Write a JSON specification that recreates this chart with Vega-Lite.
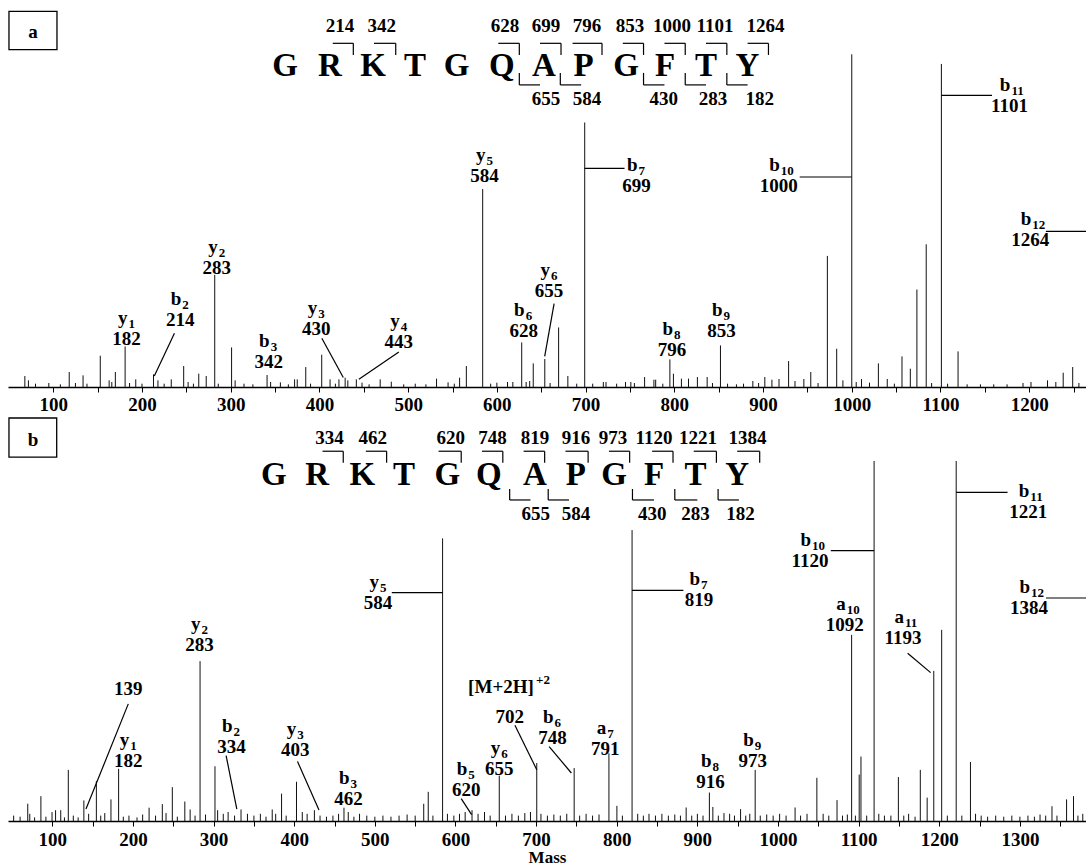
{
"$schema":"https://vega.github.io/schema/vega-lite/v6.json",
"padding":{"left":8,"top":0,"right":0,"bottom":0},
"autosize":{"type":"pad"},
"bounds":"flush",
"spacing":31,
"config":{"view":{"stroke":null},"text":{"font":"Liberation Serif"}},
"datasets":{
"peaks_a":[{"m":68,"i":3.3},{"m":72,"i":2.0},{"m":80,"i":1.0},{"m":95,"i":1.2},{"m":108,"i":0.8},{"m":118,"i":4.5},{"m":125,"i":1.2},{"m":133.6,"i":3.5},{"m":138,"i":1.0},{"m":153,"i":9.4},{"m":163,"i":2.0},{"m":166,"i":1.5},{"m":170,"i":4.5},{"m":181,"i":12.2},{"m":186,"i":1.2},{"m":193,"i":2.3},{"m":200,"i":1.0},{"m":213,"i":3.8},{"m":218,"i":2.0},{"m":225,"i":1.0},{"m":233,"i":2.3},{"m":247,"i":6.3},{"m":252,"i":1.5},{"m":258,"i":1.0},{"m":264,"i":4.0},{"m":272.4,"i":3.3},{"m":282,"i":33.7},{"m":286,"i":1.0},{"m":301,"i":11.9},{"m":305,"i":2.0},{"m":315,"i":1.0},{"m":325,"i":0.8},{"m":341,"i":3.6},{"m":345,"i":1.5},{"m":356,"i":1.4},{"m":365,"i":0.8},{"m":372,"i":2.3},{"m":375,"i":2.3},{"m":384.6,"i":6.0},{"m":390,"i":1.0},{"m":402.6,"i":9.7},{"m":412,"i":2.3},{"m":418,"i":1.0},{"m":422,"i":2.3},{"m":429,"i":2.8},{"m":432,"i":2.0},{"m":441.6,"i":2.3},{"m":448,"i":1.3},{"m":456,"i":0.8},{"m":468.5,"i":2.3},{"m":481,"i":1.6},{"m":495,"i":0.8},{"m":508,"i":1.0},{"m":520,"i":0.8},{"m":532,"i":2.5},{"m":545,"i":1.4},{"m":552,"i":1.0},{"m":558,"i":2.8},{"m":565.6,"i":6.3},{"m":584,"i":59.5},{"m":593,"i":1.0},{"m":600,"i":1.3},{"m":612,"i":1.5},{"m":618,"i":1.5},{"m":628,"i":13.4},{"m":633,"i":1.5},{"m":637,"i":1.8},{"m":641,"i":7.1},{"m":654,"i":8.4},{"m":660,"i":1.2},{"m":669.6,"i":17.9},{"m":680,"i":3.3},{"m":690,"i":1.0},{"m":699,"i":79.5},{"m":708,"i":1.0},{"m":720,"i":1.5},{"m":723,"i":1.5},{"m":735,"i":1.0},{"m":745,"i":1.5},{"m":751,"i":1.5},{"m":755,"i":1.2},{"m":766.5,"i":3.0},{"m":777,"i":2.2},{"m":779,"i":2.2},{"m":787,"i":1.0},{"m":795,"i":8.3},{"m":799,"i":4.0},{"m":808,"i":2.5},{"m":816,"i":2.5},{"m":826,"i":3.0},{"m":837,"i":3.0},{"m":843,"i":1.2},{"m":852,"i":12.5},{"m":860,"i":1.0},{"m":870,"i":0.8},{"m":878,"i":1.0},{"m":888.5,"i":1.8},{"m":895,"i":1.2},{"m":902,"i":3.0},{"m":910,"i":2.2},{"m":918,"i":2.4},{"m":928.8,"i":7.8},{"m":936,"i":1.8},{"m":946,"i":2.4},{"m":953.8,"i":4.5},{"m":962,"i":1.2},{"m":972.5,"i":39.4},{"m":983,"i":11.5},{"m":990,"i":2.0},{"m":1000,"i":100},{"m":1005,"i":1.5},{"m":1011,"i":2.4},{"m":1020,"i":1.3},{"m":1030,"i":7.1},{"m":1040,"i":2.4},{"m":1048,"i":1.0},{"m":1056.6,"i":9.2},{"m":1066,"i":5.5},{"m":1073.4,"i":29.3},{"m":1083.9,"i":42.9},{"m":1090,"i":1.2},{"m":1101,"i":97.1},{"m":1108,"i":1.0},{"m":1119.8,"i":10.7},{"m":1130,"i":0.8},{"m":1145,"i":0.8},{"m":1160,"i":0.8},{"m":1175,"i":0.8},{"m":1193,"i":1.2},{"m":1202,"i":1.5},{"m":1220.6,"i":2.0},{"m":1230,"i":1.5},{"m":1238.3,"i":4.3},{"m":1249,"i":6.0},{"m":1256,"i":1.2}],
"labels_a":[{"m":77.2,"i":104.95,"num":"a"},
{"m":423.2,"i":106.6,"num":"214"},{"m":470.2,"i":106.6,"num":"342"},{"m":609.2,"i":106.6,"num":"628"},{"m":655.4,"i":106.6,"num":"699"},{"m":701.6,"i":106.6,"num":"796"},{"m":750.1,"i":106.6,"num":"853"},{"m":797.4,"i":106.6,"num":"1000"},{"m":845.9,"i":106.6,"num":"1101"},{"m":902.9,"i":106.6,"num":"1264"},
{"m":655.4,"i":84.76,"num":"655"},{"m":701.6,"i":84.76,"num":"584"},{"m":788.1,"i":84.76,"num":"430"},{"m":843.6,"i":84.76,"num":"283"},{"m":896.3,"i":84.76,"num":"182"},
{"m":182.7,"i":12.74,"num":"182","ion":"y","sub":"1"},{"m":243.2,"i":18.21,"num":"214","ion":"b","sub":"2"},{"m":284.2,"i":34.02,"num":"283","ion":"y","sub":"2"},{"m":342.8,"i":5.83,"num":"342","ion":"b","sub":"3"},{"m":396.4,"i":15.72,"num":"430","ion":"y","sub":"3"},{"m":489.5,"i":11.78,"num":"443","ion":"y","sub":"4"},{"m":586,"i":61.5,"num":"584","ion":"y","sub":"5"},{"m":630.2,"i":14.91,"num":"628","ion":"b","sub":"6"},{"m":658.8,"i":27.08,"num":"655","ion":"y","sub":"6"},{"m":757.5,"i":58.52,"num":"699","ion":"b","sub":"7"},{"m":797.4,"i":9.29,"num":"796","ion":"b","sub":"8"},{"m":853.3,"i":14.91,"num":"853","ion":"b","sub":"9"},{"m":917.8,"i":58.52,"num":"1000","ion":"b","sub":"10"},{"m":1177.7,"i":82.75,"num":"1101","ion":"b","sub":"11"},{"m":1201.2,"i":42.41,"num":"1264","ion":"b","sub":"12"}],
"seq_a":[{"m":361.2,"i":93.33,"t":"G"},{"m":411.9,"i":93.33,"t":"R"},{"m":460.4,"i":93.33,"t":"K"},{"m":507.7,"i":93.33,"t":"T"},{"m":554.7,"i":93.33,"t":"G"},{"m":605.5,"i":93.33,"t":"Q"},{"m":653.1,"i":93.33,"t":"A"},{"m":697.8,"i":93.33,"t":"P"},{"m":745.6,"i":93.33,"t":"G"},{"m":789.5,"i":93.33,"t":"F"},{"m":835.7,"i":93.33,"t":"T"},{"m":882.5,"i":93.33,"t":"Y"}],
"seg_a":[
{"m":415.0,"i":103.3,"m2":438.2,"i2":103.3},{"m":438.2,"i":103.3,"m2":438.2,"i2":99.8},
{"m":461.5,"i":103.3,"m2":486.0,"i2":103.3},{"m":486.0,"i":103.3,"m2":486.0,"i2":99.8},
{"m":601.6,"i":103.3,"m2":625.3,"i2":103.3},{"m":625.3,"i":103.3,"m2":625.3,"i2":99.8},
{"m":648.6,"i":103.3,"m2":672.3,"i2":103.3},{"m":672.3,"i":103.3,"m2":672.3,"i2":99.8},
{"m":685.3,"i":103.3,"m2":718.5,"i2":103.3},{"m":718.5,"i":103.3,"m2":718.5,"i2":99.8},
{"m":741.9,"i":103.3,"m2":765.3,"i2":103.3},{"m":765.3,"i":103.3,"m2":765.3,"i2":99.8},
{"m":788.9,"i":103.3,"m2":812.3,"i2":103.3},{"m":812.3,"i":103.3,"m2":812.3,"i2":99.8},
{"m":835.7,"i":103.3,"m2":859.2,"i2":103.3},{"m":859.2,"i":103.3,"m2":859.2,"i2":99.8},
{"m":882.6,"i":103.3,"m2":906.1,"i2":103.3},{"m":906.1,"i":103.3,"m2":906.1,"i2":99.8},
{"m":625.3,"i":94.4,"m2":625.3,"i2":90.8},{"m":625.3,"i":90.8,"m2":648.6,"i2":90.8},
{"m":671.5,"i":94.4,"m2":671.5,"i2":90.8},{"m":671.5,"i":90.8,"m2":695.0,"i2":90.8},
{"m":765.3,"i":94.4,"m2":765.3,"i2":90.8},{"m":765.3,"i":90.8,"m2":788.9,"i2":90.8},
{"m":812.3,"i":94.4,"m2":812.3,"i2":90.8},{"m":812.3,"i":90.8,"m2":835.7,"i2":90.8},
{"m":859.2,"i":94.4,"m2":859.2,"i2":90.8},{"m":859.2,"i":90.8,"m2":882.6,"i2":90.8},
{"m":698.9,"i":65.7,"m2":743.9,"i2":65.7},
{"m":941.3,"i":63.12,"m2":999.9,"i2":63.12},
{"m":1101,"i":87.65,"m2":1158.1,"i2":87.65},
{"m":1218.8,"i":46.8,"m2":1264,"i2":46.8},
{"m":236.6,"i":16.17,"m2":213.9,"i2":3.31},
{"m":402.7,"i":14.67,"m2":426.9,"i2":2.83},
{"m":489.5,"i":10.52,"m2":444.5,"i2":2.31},
{"m":664.5,"i":25.07,"m2":653.9,"i2":9.23}],
"box_a":[{"m":50.1,"i":101.4,"m2":104.2,"i2":112.9}],
"peaks_b":[{"m":52,"i":1.5},{"m":60,"i":1.2},{"m":69.5,"i":4.8},{"m":72,"i":2.0},{"m":78,"i":1.0},{"m":85.8,"i":6.9},{"m":92,"i":1.2},{"m":99.6,"i":2.5},{"m":104,"i":3.0},{"m":110.4,"i":3.0},{"m":115,"i":1.0},{"m":119.8,"i":14.2},{"m":126,"i":1.5},{"m":132,"i":1.0},{"m":139.1,"i":5.7},{"m":145,"i":2.0},{"m":154.6,"i":11.1},{"m":160,"i":1.5},{"m":165,"i":2.2},{"m":172.7,"i":6.0},{"m":182.2,"i":14.5},{"m":188,"i":1.2},{"m":195,"i":1.5},{"m":205,"i":1.0},{"m":212,"i":1.8},{"m":220,"i":3.7},{"m":228,"i":1.5},{"m":236.4,"i":4.7},{"m":241,"i":2.2},{"m":248.8,"i":9.4},{"m":255,"i":1.2},{"m":264.3,"i":5.4},{"m":270.9,"i":3.2},{"m":277,"i":1.5},{"m":283.2,"i":44.4},{"m":290,"i":1.8},{"m":301.7,"i":15.2},{"m":305,"i":3.0},{"m":312,"i":2.0},{"m":318,"i":2.5},{"m":326,"i":1.5},{"m":334,"i":3.2},{"m":342,"i":2.0},{"m":350,"i":1.5},{"m":358,"i":2.0},{"m":365,"i":1.2},{"m":372.7,"i":3.2},{"m":377,"i":2.0},{"m":384.3,"i":7.6},{"m":390,"i":1.5},{"m":402.8,"i":10.9},{"m":410,"i":2.5},{"m":416,"i":2.0},{"m":425,"i":3.0},{"m":432,"i":1.5},{"m":440,"i":1.2},{"m":448,"i":1.5},{"m":455,"i":2.0},{"m":461.7,"i":3.7},{"m":467,"i":2.5},{"m":474,"i":1.2},{"m":481,"i":2.0},{"m":490,"i":1.5},{"m":500,"i":1.2},{"m":510,"i":1.5},{"m":520,"i":1.2},{"m":530,"i":1.5},{"m":540,"i":1.8},{"m":550,"i":1.5},{"m":560.6,"i":4.8},{"m":566.2,"i":8.1},{"m":572,"i":1.5},{"m":584,"i":78.5},{"m":590,"i":2.0},{"m":598,"i":1.5},{"m":605,"i":2.0},{"m":612,"i":2.5},{"m":620.5,"i":3.0},{"m":628,"i":2.0},{"m":636,"i":2.5},{"m":643,"i":1.5},{"m":654.3,"i":12.6},{"m":662,"i":1.5},{"m":670,"i":2.0},{"m":678,"i":1.5},{"m":686,"i":2.2},{"m":693,"i":2.5},{"m":700.8,"i":16.1},{"m":706,"i":2.0},{"m":714,"i":1.5},{"m":722,"i":1.8},{"m":730,"i":1.5},{"m":738,"i":2.0},{"m":747.2,"i":14.7},{"m":754,"i":1.5},{"m":762,"i":2.0},{"m":770,"i":1.5},{"m":778,"i":1.8},{"m":790.3,"i":18.8},{"m":800.2,"i":4.2},{"m":807,"i":1.5},{"m":819,"i":80.8},{"m":826,"i":2.0},{"m":833,"i":1.5},{"m":840,"i":2.0},{"m":848,"i":1.5},{"m":856,"i":2.0},{"m":864,"i":1.5},{"m":872,"i":1.8},{"m":879,"i":1.5},{"m":886.1,"i":3.75},{"m":893,"i":1.5},{"m":900,"i":2.0},{"m":907,"i":1.5},{"m":914.9,"i":7.9},{"m":919.2,"i":3.9},{"m":926,"i":1.5},{"m":933,"i":2.2},{"m":940,"i":2.0},{"m":946,"i":1.5},{"m":953.6,"i":3.3},{"m":960,"i":1.5},{"m":965,"i":2.0},{"m":971.7,"i":14.2},{"m":978,"i":1.5},{"m":986,"i":1.8},{"m":994,"i":1.5},{"m":1002,"i":2.0},{"m":1010,"i":1.5},{"m":1021.2,"i":3.75},{"m":1028,"i":1.5},{"m":1036,"i":2.0},{"m":1048.2,"i":12.0},{"m":1056,"i":2.0},{"m":1063,"i":1.5},{"m":1073.2,"i":5.8},{"m":1080,"i":1.5},{"m":1086,"i":1.8},{"m":1091.3,"i":51.7},{"m":1096,"i":1.5},{"m":1100.7,"i":12.9},{"m":1102.9,"i":17.9},{"m":1110,"i":1.5},{"m":1119.2,"i":100},{"m":1125,"i":2.0},{"m":1132,"i":1.5},{"m":1140,"i":1.5},{"m":1149.3,"i":12.2},{"m":1156,"i":1.5},{"m":1162,"i":2.0},{"m":1170,"i":1.2},{"m":1176.5,"i":14.2},{"m":1185,"i":6.5},{"m":1193.2,"i":41.7},{"m":1203,"i":53.1},{"m":1210,"i":1.5},{"m":1221,"i":100},{"m":1228,"i":1.5},{"m":1238.7,"i":16.4},{"m":1245,"i":2.0},{"m":1252,"i":1.5},{"m":1260,"i":1.2},{"m":1270,"i":1.5},{"m":1280,"i":1.2},{"m":1290,"i":1.5},{"m":1300,"i":1.2},{"m":1310,"i":1.5},{"m":1318,"i":1.2},{"m":1325,"i":1.8},{"m":1332,"i":1.5},{"m":1339.8,"i":4.1},{"m":1346,"i":1.5},{"m":1357.9,"i":6.0},{"m":1366.5,"i":6.9},{"m":1372,"i":1.5},{"m":1378,"i":2.0}],
"labels_b":[{"m":76,"i":104.17,"num":"b"},
{"m":443.6,"i":104.83,"num":"334"},{"m":497.3,"i":104.83,"num":"462"},{"m":594.2,"i":104.83,"num":"620"},{"m":645.8,"i":104.83,"num":"748"},{"m":698.6,"i":104.83,"num":"819"},{"m":749.4,"i":104.83,"num":"916"},{"m":795.3,"i":104.83,"num":"973"},{"m":846.2,"i":104.83,"num":"1120"},{"m":900.8,"i":104.83,"num":"1221"},{"m":962.3,"i":104.83,"num":"1384"},
{"m":699.4,"i":83.61,"num":"655"},{"m":749.4,"i":83.61,"num":"584"},{"m":843.9,"i":83.61,"num":"430"},{"m":897.8,"i":83.61,"num":"283"},{"m":953.6,"i":83.61,"num":"182"},
{"m":503.9,"i":58.89,"num":"584","ion":"y","sub":"5"},{"m":902,"i":59.81,"num":"819","ion":"b","sub":"7"},{"m":1039.7,"i":70.5,"num":"1120","ion":"b","sub":"10"},{"m":1310.5,"i":84.03,"num":"1221","ion":"b","sub":"11"},{"m":1311.3,"i":57.39,"num":"1384","ion":"b","sub":"12"},{"m":1082.7,"i":52.67,"num":"1092","ion":"a","sub":"10"},{"m":1155,"i":49.06,"num":"1193","ion":"a","sub":"11"},{"m":282.4,"i":47.19,"num":"283","ion":"y","sub":"2"},{"m":194.2,"i":34.86,"num":"139"},{"m":194.2,"i":14.94,"num":"182","ion":"y","sub":"1"},{"m":322.3,"i":18.89,"num":"334","ion":"b","sub":"2"},{"m":401.4,"i":18.14,"num":"403","ion":"y","sub":"3"},{"m":467.3,"i":4.44,"num":"462","ion":"b","sub":"3"},{"m":613.5,"i":7.0,"num":"620","ion":"b","sub":"5"},{"m":654.3,"i":12.75,"num":"655","ion":"y","sub":"6"},{"m":667.2,"i":27.11,"num":"702"},{"m":656.4,"i":35.42,"num":"[M+2H]"},{"m":697.4,"i":33.2,"sub":"+2"},{"m":720.3,"i":21.33,"num":"748","ion":"b","sub":"6"},{"m":785.9,"i":18.42,"num":"791","ion":"a","sub":"7"},{"m":916.3,"i":9.28,"num":"916","ion":"b","sub":"8"},{"m":968.7,"i":14.94,"num":"973","ion":"b","sub":"9"}],
"seq_b":[{"m":374.8,"i":93.33,"t":"G"},{"m":428.6,"i":93.33,"t":"R"},{"m":484.4,"i":93.33,"t":"K"},{"m":536.1,"i":93.33,"t":"T"},{"m":589.8,"i":93.33,"t":"G"},{"m":641.4,"i":93.33,"t":"Q"},{"m":698.6,"i":93.33,"t":"A"},{"m":749.3,"i":93.33,"t":"P"},{"m":796.7,"i":93.33,"t":"G"},{"m":846.2,"i":93.33,"t":"F"},{"m":897.8,"i":93.33,"t":"T"},{"m":949.4,"i":93.33,"t":"Y"}],
"seg_b":[
{"m":435.1,"i":102.71,"m2":460.8,"i2":102.71},{"m":460.8,"i":102.71,"m2":460.8,"i2":99.5},
{"m":488.8,"i":102.71,"m2":514.6,"i2":102.71},{"m":514.6,"i":102.71,"m2":514.6,"i2":99.5},
{"m":579.0,"i":102.71,"m2":607.1,"i2":102.71},{"m":607.1,"i":102.71,"m2":607.1,"i2":99.5},
{"m":632.9,"i":102.71,"m2":658.7,"i2":102.71},{"m":658.7,"i":102.71,"m2":658.7,"i2":99.5},
{"m":684.5,"i":102.71,"m2":710.6,"i2":102.71},{"m":710.6,"i":102.71,"m2":710.6,"i2":99.5},
{"m":736.4,"i":102.71,"m2":764.5,"i2":102.71},{"m":764.5,"i":102.71,"m2":764.5,"i2":99.5},
{"m":790.3,"i":102.71,"m2":816.0,"i2":102.71},{"m":816.0,"i":102.71,"m2":816.0,"i2":99.5},
{"m":843.9,"i":102.71,"m2":869.8,"i2":102.71},{"m":869.8,"i":102.71,"m2":869.8,"i2":99.5},
{"m":895.5,"i":102.71,"m2":923.6,"i2":102.71},{"m":923.6,"i":102.71,"m2":923.6,"i2":99.5},
{"m":949.4,"i":102.71,"m2":977.3,"i2":102.71},{"m":977.3,"i":102.71,"m2":977.3,"i2":99.5},
{"m":667.2,"i":92.22,"m2":667.2,"i2":89.17},{"m":667.2,"i":89.17,"m2":693.0,"i2":89.17},
{"m":715.0,"i":92.22,"m2":715.0,"i2":89.17},{"m":715.0,"i":89.17,"m2":740.8,"i2":89.17},
{"m":819.5,"i":92.22,"m2":819.5,"i2":89.17},{"m":819.5,"i":89.17,"m2":846.2,"i2":89.17},
{"m":872.0,"i":92.22,"m2":872.0,"i2":89.17},{"m":872.0,"i":89.17,"m2":899.9,"i2":89.17},
{"m":925.7,"i":92.22,"m2":925.7,"i2":89.17},{"m":925.7,"i":89.17,"m2":951.5,"i2":89.17},
{"m":521,"i":63.42,"m2":584,"i2":63.42},
{"m":819,"i":64.06,"m2":882.6,"i2":64.06},
{"m":1065.5,"i":75.11,"m2":1119.2,"i2":75.11},
{"m":1221,"i":91.28,"m2":1284.7,"i2":91.28},
{"m":1332.4,"i":61.94,"m2":1382,"i2":61.94},
{"m":194.2,"i":32.53,"m2":141.7,"i2":3.31},
{"m":315.5,"i":18.19,"m2":328.8,"i2":3.31},
{"m":404,"i":16.56,"m2":430.7,"i2":3.03},
{"m":607.1,"i":6.22,"m2":620,"i2":1.75},
{"m":673.7,"i":26.58,"m2":700.8,"i2":14.25},
{"m":716.2,"i":20.67,"m2":743.7,"i2":13.33},
{"m":1160.8,"i":46.58,"m2":1189.3,"i2":41.22}],
"box_b":[{"m":46.2,"i":101.1,"m2":105.4,"i2":111.94}]
},
"vconcat":[
{
"width":1078,"height":387,
"encoding":{
"x":{"field":"m","type":"quantitative","scale":{"domain":[49,1264],"nice":false,"zero":false},
"axis":{"values":[100,150,200,250,300,350,400,450,500,550,600,650,700,750,800,850,900,950,1000,1050,1100,1150,1200,1250],"labelExpr":"datum.value % 100 === 0 ? datum.label : ''","format":"d","title":null,"grid":false,"domainColor":"black","domainWidth":1.5,"tickColor":"black","tickSize":5,"tickWidth":1,"labelFont":"Liberation Serif","labelFontWeight":"bold","labelFontSize":19,"labelColor":"black","labelPadding":3,"labelOverlap":false,"labelFlush":false,"labelBound":false}},
"y":{"field":"i","type":"quantitative","scale":{"domain":[0,116.32],"nice":false,"zero":false},"axis":null}
},
"layer":[
{"data":{"name":"peaks_a"},"mark":{"type":"rule","color":"#111111","strokeWidth":1},"encoding":{"y2":{"datum":0}}},
{"data":{"name":"seg_a"},"mark":{"type":"rule","color":"black","strokeWidth":1.2},"encoding":{"x2":{"field":"m2"},"y2":{"field":"i2"}}},
{"data":{"name":"box_a"},"mark":{"type":"rect","filled":false,"stroke":"black","strokeWidth":1.3},"encoding":{"x2":{"field":"m2"},"y2":{"field":"i2"}}},
{"data":{"name":"seq_a"},"mark":{"type":"text","font":"Liberation Serif","fontWeight":"bold","fontSize":33,"baseline":"alphabetic","align":"center","color":"black"},"encoding":{"text":{"field":"t"}}},
{"data":{"name":"labels_a"},"transform":[{"filter":"datum.num"}],"mark":{"type":"text","font":"Liberation Serif","fontWeight":"bold","fontSize":19,"baseline":"alphabetic","align":"center","color":"black"},"encoding":{"text":{"field":"num"}}},
{"data":{"name":"labels_a"},"transform":[{"filter":"datum.ion"}],"mark":{"type":"text","font":"Liberation Serif","fontWeight":"bold","fontSize":19,"baseline":"alphabetic","align":"right","dx":1,"dy":-21,"color":"black"},"encoding":{"text":{"field":"ion"}}},
{"data":{"name":"labels_a"},"transform":[{"filter":"datum.sub"}],"mark":{"type":"text","font":"Liberation Serif","fontWeight":"bold","fontSize":13,"baseline":"alphabetic","align":"left","dx":2,"dy":-17,"color":"black"},"encoding":{"text":{"field":"sub"}}}
]
},
{
"width":1078,"height":403,
"encoding":{
"x":{"field":"m","type":"quantitative","scale":{"domain":[45,1382],"nice":false,"zero":false},
"axis":{"values":[100,150,200,250,300,350,400,450,500,550,600,650,700,750,800,850,900,950,1000,1050,1100,1150,1200,1250,1300,1350],"labelExpr":"datum.value % 100 === 0 ? datum.label : ''","format":"d","title":"Mass","titleFont":"Liberation Serif","titleFontWeight":"bold","titleFontSize":17,"titleColor":"black","titlePadding":0,"grid":false,"domainColor":"black","domainWidth":1.5,"tickColor":"black","tickSize":5,"tickWidth":1,"labelFont":"Liberation Serif","labelFontWeight":"bold","labelFontSize":19,"labelColor":"black","labelPadding":4,"labelOverlap":false,"labelFlush":false,"labelBound":false}},
"y":{"field":"i","type":"quantitative","scale":{"domain":[0,111.94],"nice":false,"zero":false},"axis":null}
},
"layer":[
{"data":{"name":"peaks_b"},"mark":{"type":"rule","color":"#111111","strokeWidth":1},"encoding":{"y2":{"datum":0}}},
{"data":{"name":"seg_b"},"mark":{"type":"rule","color":"black","strokeWidth":1.2},"encoding":{"x2":{"field":"m2"},"y2":{"field":"i2"}}},
{"data":{"name":"box_b"},"mark":{"type":"rect","filled":false,"stroke":"black","strokeWidth":1.3},"encoding":{"x2":{"field":"m2"},"y2":{"field":"i2"}}},
{"data":{"name":"seq_b"},"mark":{"type":"text","font":"Liberation Serif","fontWeight":"bold","fontSize":33,"baseline":"alphabetic","align":"center","color":"black"},"encoding":{"text":{"field":"t"}}},
{"data":{"name":"labels_b"},"transform":[{"filter":"datum.num"}],"mark":{"type":"text","font":"Liberation Serif","fontWeight":"bold","fontSize":19,"baseline":"alphabetic","align":"center","color":"black"},"encoding":{"text":{"field":"num"}}},
{"data":{"name":"labels_b"},"transform":[{"filter":"datum.ion"}],"mark":{"type":"text","font":"Liberation Serif","fontWeight":"bold","fontSize":19,"baseline":"alphabetic","align":"right","dx":1,"dy":-21,"color":"black"},"encoding":{"text":{"field":"ion"}}},
{"data":{"name":"labels_b"},"transform":[{"filter":"datum.sub"}],"mark":{"type":"text","font":"Liberation Serif","fontWeight":"bold","fontSize":13,"baseline":"alphabetic","align":"left","dx":2,"dy":-17,"color":"black"},"encoding":{"text":{"field":"sub"}}}
]
}
]
}
